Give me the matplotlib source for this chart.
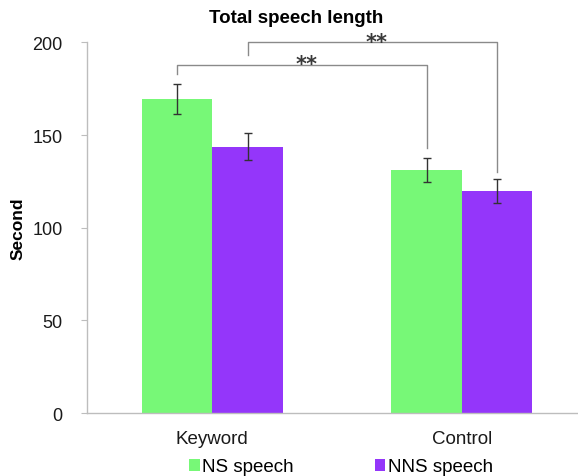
import numpy as np
import matplotlib
matplotlib.use("Agg")
import matplotlib.pyplot as plt

plt.rcParams['font.family'] = ['Liberation Sans', 'DejaVu Sans']

# Mean speech length (s) with error bars
groups = ['Keyword', 'Control']
ns_mean = [169.5, 131.0]
ns_err = [8.3, 6.4]
nns_mean = [143.7, 119.6]
nns_err = [7.2, 6.5]

ns_color = '#77F877'
nns_color = '#9436FA'
line_grey = '#8A8A8A'

fig = plt.figure(figsize=(5.78, 4.77), dpi=100)
ax = fig.add_axes([0.1505, 0.132, 0.848, 0.777])

x = np.arange(len(groups))
w = 0.283
err_kw = dict(ecolor='#333333', elinewidth=1.0, capsize=3.2, capthick=1.0)
ax.bar(x - w / 2, ns_mean, w, yerr=ns_err, color=ns_color, label='NS speech',
       error_kw=err_kw)
ax.bar(x + w / 2, nns_mean, w, yerr=nns_err, color=nns_color, label='NNS speech',
       error_kw=err_kw)

ax.set_xlim(-0.502, 1.462)
ax.set_ylim(0, 200)
ax.set_yticks([0, 50, 100, 150, 200])
ax.set_xticks(x)
ax.set_xticklabels(groups)

for s in ['top', 'right']:
    ax.spines[s].set_visible(False)
for s in ['left', 'bottom']:
    ax.spines[s].set_color('#BDBDBD')
    ax.spines[s].set_linewidth(1.0)
ax.tick_params(axis='y', direction='out', length=4, color='#BDBDBD',
               labelsize=13, pad=13.5, labelcolor='#1a1a1a')
ax.tick_params(axis='x', length=0, labelsize=13.5, pad=12, labelcolor='#1a1a1a')

ax.set_ylabel('Second', fontsize=12.5, fontweight='bold')
ax.yaxis.set_label_coords(-0.125, 0.5)

fig.text(0.513, 0.962, 'Total speech length', ha='center', va='center',
         fontsize=13.5, fontweight='bold')


# significance brackets
def bracket(x0, x1, y, y0, y1, label, lx, ly):
    ax.plot([x0, x0, x1, x1], [y0, y, y, y1], color=line_grey, lw=1.0,
            clip_on=False)
    ax.text(lx, ly, label, ha='center', va='baseline', fontsize=15,
            fontweight='bold', family='DejaVu Sans', color='#3a3a3a',
            clip_on=False)


bracket(x[0] + w / 2, x[1] + w / 2, 200, 193, 130, '**', 0.659, 196.8)
bracket(x[0] - w / 2, x[1] - w / 2, 188, 183, 143, '**', 0.376, 184.9)

fig.legend(loc='center', bbox_to_anchor=(341 / 578, 1 - 468 / 477), ncol=2,
           frameon=False, fontsize=13.5, handlelength=0.55, handleheight=0.55,
           handletextpad=0.15, columnspacing=4.3)

fig.savefig('out.png', dpi=100)
